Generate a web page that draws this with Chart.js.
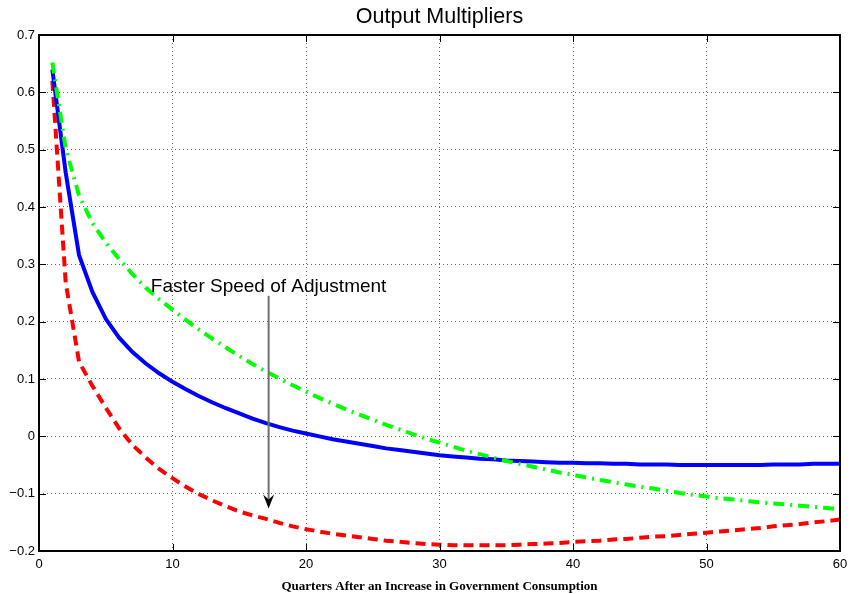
<!DOCTYPE html>
<html>
<head>
<meta charset="utf-8">
<title>Output Multipliers</title>
<script src="https://cdn.jsdelivr.net/npm/chart.js@4.4.1/dist/chart.umd.min.js"></script>
<style>
  body { margin: 0; background: #fff; }
  #wrap { width: 850px; height: 594px; }
</style>
</head>
<body>
<div id="wrap"><canvas id="multChart" width="850" height="594"></canvas></div>
<script>
// Trimestres
const quarters = [1, 2, 3, 4, 5, 6, 7, 8, 9, 10, 11, 12, 13, 14, 15, 16, 17, 18, 19, 20,
  21, 22, 23, 24, 25, 26, 27, 28, 29, 30, 31, 32, 33, 34, 35, 36, 37, 38, 39, 40,
  41, 42, 43, 44, 45, 46, 47, 48, 49, 50, 51, 52, 53, 54, 55, 56, 57, 58, 59, 60];

// Curva azul (linea continua)
const blueValues = [0.640, 0.460, 0.316, 0.252, 0.205, 0.172, 0.147, 0.127, 0.110, 0.095,
  0.082, 0.070, 0.059, 0.049, 0.040, 0.031, 0.023, 0.016, 0.010, 0.005,
  0.000, -0.005, -0.009, -0.013, -0.017, -0.021, -0.024, -0.027, -0.030, -0.033,
  -0.035, -0.037, -0.039, -0.040, -0.042, -0.043, -0.044, -0.045, -0.046, -0.046,
  -0.047, -0.047, -0.048, -0.048, -0.049, -0.049, -0.049, -0.050, -0.050, -0.050,
  -0.050, -0.050, -0.050, -0.050, -0.049, -0.049, -0.049, -0.048, -0.048, -0.048];

// Curva verde (guion-punto)
const greenValues = [0.652, 0.502, 0.420, 0.372, 0.338, 0.309, 0.283, 0.259, 0.239, 0.221,
  0.203, 0.186, 0.170, 0.155, 0.140, 0.126, 0.113, 0.101, 0.089, 0.078,
  0.067, 0.057, 0.047, 0.038, 0.029, 0.020, 0.012, 0.004, -0.004, -0.011,
  -0.018, -0.025, -0.031, -0.037, -0.043, -0.048, -0.053, -0.058, -0.063, -0.067,
  -0.072, -0.076, -0.080, -0.084, -0.088, -0.091, -0.095, -0.099, -0.102, -0.105,
  -0.108, -0.110, -0.113, -0.115, -0.117, -0.119, -0.121, -0.123, -0.125, -0.127];

// Curva roja (discontinua)
const redValues = [0.620, 0.268, 0.130, 0.088, 0.050, 0.014, -0.015, -0.037, -0.057, -0.073,
  -0.088, -0.101, -0.112, -0.122, -0.131, -0.138, -0.144, -0.151, -0.157, -0.162,
  -0.166, -0.170, -0.173, -0.176, -0.179, -0.182, -0.184, -0.186, -0.188, -0.189,
  -0.190, -0.190, -0.190, -0.190, -0.190, -0.189, -0.188, -0.187, -0.186, -0.184,
  -0.183, -0.182, -0.180, -0.179, -0.177, -0.175, -0.174, -0.172, -0.170, -0.168,
  -0.166, -0.164, -0.162, -0.160, -0.157, -0.155, -0.153, -0.150, -0.148, -0.145];

// Marcas de los ejes
const xTicks = [0, 10, 20, 30, 40, 50, 60];
const yTicks = [-0.2, -0.1, 0, 0.1, 0.2, 0.3, 0.4, 0.5, 0.6, 0.7];
const yTickLabels = ['\u22120.2', '\u22120.1', '0', '0.1', '0.2', '0.3', '0.4', '0.5', '0.6', '0.7'];

const chartTitle = 'Output Multipliers';

// Anotacion (en unidades de datos)
const noteText = 'Faster Speed of Adjustment';
const noteX = 17.2;
const noteTextY = 0.252;
const arrowFromY = 0.245;
const arrowToY = -0.126;

function toPoints(values) {
    return quarters.map((q, i) => ({ x: q, y: values[i] }));
}

// Titulo, marco, marcas hacia dentro y flecha
const framePlugin = {
    id: 'framePlugin',
    afterDraw(chart) {
        const ctx = chart.ctx;
        const a = chart.chartArea;
        const x = chart.scales.x;
        const y = chart.scales.y;
        ctx.save();

        // titulo centrado sobre el area del grafico
        ctx.fillStyle = '#000';
        ctx.font = '21.5px "Liberation Sans", Arial, sans-serif';
        ctx.textAlign = 'center';
        ctx.textBaseline = 'alphabetic';
        ctx.fillText(chartTitle, (a.left + a.right) / 2, 23);

        // flecha
        const ax = x.getPixelForValue(noteX);
        const y0 = y.getPixelForValue(arrowFromY);
        const y1 = y.getPixelForValue(arrowToY);
        ctx.strokeStyle = '#707070';
        ctx.lineWidth = 2;
        ctx.beginPath();
        ctx.moveTo(ax, y0);
        ctx.lineTo(ax, y1 - 8);
        ctx.stroke();
        ctx.beginPath();
        ctx.moveTo(ax, y1);
        ctx.lineTo(ax - 5.5, y1 - 14);
        ctx.lineTo(ax, y1 - 9);
        ctx.lineTo(ax + 5.5, y1 - 14);
        ctx.closePath();
        ctx.fill();

        ctx.font = '19px "Liberation Sans", Arial, sans-serif';
        ctx.fillText(noteText, ax, y.getPixelForValue(noteTextY));

        // marcas
        ctx.strokeStyle = '#000';
        ctx.lineWidth = 1;
        ctx.beginPath();
        yTicks.forEach(v => {
            const py = Math.round(y.getPixelForValue(v)) + 0.5;
            ctx.moveTo(a.left, py); ctx.lineTo(a.left + 7, py);
            ctx.moveTo(a.right, py); ctx.lineTo(a.right - 7, py);
        });
        xTicks.forEach(v => {
            const px = Math.round(x.getPixelForValue(v)) + 0.5;
            ctx.moveTo(px, a.bottom); ctx.lineTo(px, a.bottom - 7);
            ctx.moveTo(px, a.top); ctx.lineTo(px, a.top + 7);
        });
        ctx.stroke();

        ctx.lineWidth = 2;
        ctx.strokeRect(a.left, a.top, a.right - a.left, a.bottom - a.top);
        ctx.restore();
    }
};

const ctx = document.getElementById('multChart').getContext('2d');
const multChart = new Chart(ctx, {
    type: 'line',
    data: {
        datasets: [
            {
                data: toPoints(greenValues),
                borderColor: '#00ff00',
                borderWidth: 4,
                borderDash: [11, 6, 2, 6],
                pointRadius: 0,
                fill: false
            },
            {
                data: toPoints(blueValues),
                borderColor: '#0000ff',
                borderWidth: 4,
                pointRadius: 0,
                fill: false
            },
            {
                data: toPoints(redValues),
                borderColor: '#ff0000',
                borderWidth: 4,
                borderDash: [10, 6],
                pointRadius: 0,
                fill: false
            }
        ]
    },
    options: {
        responsive: false,
        animation: false,
        layout: { padding: { left: 0, right: 10, top: 35, bottom: 0 } },
        plugins: {
            legend: { display: false },
            tooltip: { enabled: false },
            title: { display: false }
        },
        scales: {
            x: {
                type: 'linear',
                min: 0,
                max: 60,
                border: { display: false, dash: [1, 3] },
                afterFit(scale) {
                    scale.height = 43;
                    scale.paddingLeft = 0;
                    scale.paddingRight = 0;
                },
                afterBuildTicks(scale) { scale.ticks = xTicks.map(v => ({ value: v })); },
                grid: { color: 'rgba(0,0,0,0.6)', lineWidth: 1, drawTicks: false },
                ticks: {
                    color: '#000',
                    padding: 6,
                    maxRotation: 0,
                    font: { family: '"Liberation Sans", Arial, sans-serif', size: 13 },
                    callback: v => String(v)
                },
                title: {
                    display: true,
                    text: 'Quarters After an Increase in Government Consumption',
                    color: '#000',
                    font: { family: '"Liberation Serif", "Times New Roman", serif', size: 13, weight: 'bold' },
                    padding: { top: 0, bottom: 0 }
                }
            },
            y: {
                min: -0.2,
                max: 0.7,
                border: { display: false, dash: [1, 3] },
                afterFit(scale) { scale.width = 39; },
                afterBuildTicks(scale) { scale.ticks = yTicks.map(v => ({ value: v })); },
                grid: { color: 'rgba(0,0,0,0.6)', lineWidth: 1, drawTicks: false },
                ticks: {
                    color: '#000',
                    padding: 4,
                    font: { family: '"Liberation Sans", Arial, sans-serif', size: 13 },
                    callback: function (v) {
                        const i = yTicks.findIndex(t => Math.abs(t - v) < 1e-9);
                        return i >= 0 ? yTickLabels[i] : '';
                    }
                }
            }
        }
    },
    plugins: [framePlugin]
});
</script>
</body>
</html>
